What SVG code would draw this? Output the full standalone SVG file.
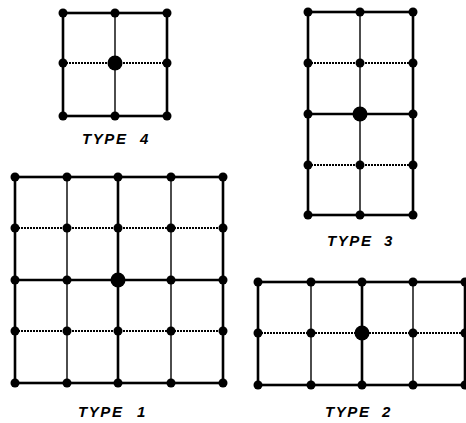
<svg xmlns="http://www.w3.org/2000/svg" width="466" height="423" viewBox="0 0 466 423">
<style>
.b{stroke:#000;stroke-width:2.6;fill:none;stroke-linecap:round}
.t{stroke:#000;stroke-width:1.4;fill:none}
.d{stroke:#000;stroke-width:2;fill:none;stroke-dasharray:2 1}
.n{fill:#000}
.c{fill:#000}
.lbl{font-family:"Liberation Sans",Arial,sans-serif;font-weight:bold;font-style:italic;font-size:15px;letter-spacing:1.6px;fill:#000}
</style>
<rect width="466" height="423" fill="#fff"/>
<g id="connectors">
<rect class="b" x="63" y="13" width="104" height="103"/>
<line class="t" x1="115" y1="13" x2="115" y2="116"/>
<line class="d" x1="63" y1="63" x2="167" y2="63"/>
<rect class="b" x="308" y="12" width="105" height="203"/>
<line class="t" x1="360" y1="12" x2="360" y2="215"/>
<line class="d" x1="308" y1="63" x2="413" y2="63"/>
<line class="b" x1="308" y1="114" x2="413" y2="114"/>
<line class="d" x1="308" y1="165" x2="413" y2="165"/>
<rect class="b" x="15" y="177" width="208" height="206"/>
<line class="t" x1="67" y1="177" x2="67" y2="383"/>
<line class="b" x1="118" y1="177" x2="118" y2="383"/>
<line class="t" x1="171" y1="177" x2="171" y2="383"/>
<line class="d" x1="15" y1="228" x2="223" y2="228"/>
<line class="b" x1="15" y1="280" x2="223" y2="280"/>
<line class="d" x1="15" y1="331" x2="223" y2="331"/>
<rect class="b" x="258" y="282" width="207" height="103"/>
<line class="t" x1="311" y1="282" x2="311" y2="385"/>
<line class="b" x1="362" y1="282" x2="362" y2="385"/>
<line class="t" x1="413" y1="282" x2="413" y2="385"/>
<line class="d" x1="258" y1="333" x2="465" y2="333"/>
</g>
<g id="type4">
<circle class="n" cx="63" cy="13" r="4.5"/><circle class="n" cx="115" cy="13" r="4.5"/><circle class="n" cx="167" cy="13" r="4.5"/>
<circle class="n" cx="63" cy="63" r="4.5"/><circle class="c" cx="115" cy="63" r="7.5"/><circle class="n" cx="167" cy="63" r="4.5"/>
<circle class="n" cx="63" cy="116" r="4.5"/><circle class="n" cx="115" cy="116" r="4.5"/><circle class="n" cx="167" cy="116" r="4.5"/>
<text class="lbl" x="82" y="144">TYPE</text><text class="lbl" x="140" y="144">4</text>
</g>
<g id="type3">
<circle class="n" cx="308" cy="12" r="4.5"/><circle class="n" cx="360" cy="12" r="4.5"/><circle class="n" cx="413" cy="12" r="4.5"/>
<circle class="n" cx="308" cy="63" r="4.5"/><circle class="n" cx="360" cy="63" r="4.5"/><circle class="n" cx="413" cy="63" r="4.5"/>
<circle class="n" cx="308" cy="114" r="4.5"/><circle class="c" cx="360" cy="114" r="7.5"/><circle class="n" cx="413" cy="114" r="4.5"/>
<circle class="n" cx="308" cy="165" r="4.5"/><circle class="n" cx="360" cy="165" r="4.5"/><circle class="n" cx="413" cy="165" r="4.5"/>
<circle class="n" cx="308" cy="215" r="4.5"/><circle class="n" cx="360" cy="215" r="4.5"/><circle class="n" cx="413" cy="215" r="4.5"/>
<text class="lbl" x="327" y="246">TYPE</text><text class="lbl" x="384" y="246">3</text>
</g>
<g id="type1">
<circle class="n" cx="15" cy="177" r="4.5"/><circle class="n" cx="67" cy="177" r="4.5"/><circle class="n" cx="118" cy="177" r="4.5"/><circle class="n" cx="171" cy="177" r="4.5"/><circle class="n" cx="223" cy="177" r="4.5"/>
<circle class="n" cx="15" cy="228" r="4.5"/><circle class="n" cx="67" cy="228" r="4.5"/><circle class="n" cx="118" cy="228" r="4.5"/><circle class="n" cx="171" cy="228" r="4.5"/><circle class="n" cx="223" cy="228" r="4.5"/>
<circle class="n" cx="15" cy="280" r="4.5"/><circle class="n" cx="67" cy="280" r="4.5"/><circle class="c" cx="118" cy="280" r="7.5"/><circle class="n" cx="171" cy="280" r="4.5"/><circle class="n" cx="223" cy="280" r="4.5"/>
<circle class="n" cx="15" cy="331" r="4.5"/><circle class="n" cx="67" cy="331" r="4.5"/><circle class="n" cx="118" cy="331" r="4.5"/><circle class="n" cx="171" cy="331" r="4.5"/><circle class="n" cx="223" cy="331" r="4.5"/>
<circle class="n" cx="15" cy="383" r="4.5"/><circle class="n" cx="67" cy="383" r="4.5"/><circle class="n" cx="118" cy="383" r="4.5"/><circle class="n" cx="171" cy="383" r="4.5"/><circle class="n" cx="223" cy="383" r="4.5"/>
<text class="lbl" x="78" y="417">TYPE</text><text class="lbl" x="137" y="417">1</text>
</g>
<g id="type2">
<circle class="n" cx="258" cy="282" r="4.5"/><circle class="n" cx="311" cy="282" r="4.5"/><circle class="n" cx="362" cy="282" r="4.5"/><circle class="n" cx="413" cy="282" r="4.5"/><circle class="n" cx="465" cy="282" r="4.5"/>
<circle class="n" cx="258" cy="333" r="4.5"/><circle class="n" cx="311" cy="333" r="4.5"/><circle class="c" cx="362" cy="333" r="7.5"/><circle class="n" cx="413" cy="333" r="4.5"/><circle class="n" cx="465" cy="333" r="4.5"/>
<circle class="n" cx="258" cy="385" r="4.5"/><circle class="n" cx="311" cy="385" r="4.5"/><circle class="n" cx="362" cy="385" r="4.5"/><circle class="n" cx="413" cy="385" r="4.5"/><circle class="n" cx="465" cy="385" r="4.5"/>
<text class="lbl" x="325" y="417">TYPE</text><text class="lbl" x="382" y="417">2</text>
</g>
</svg>
